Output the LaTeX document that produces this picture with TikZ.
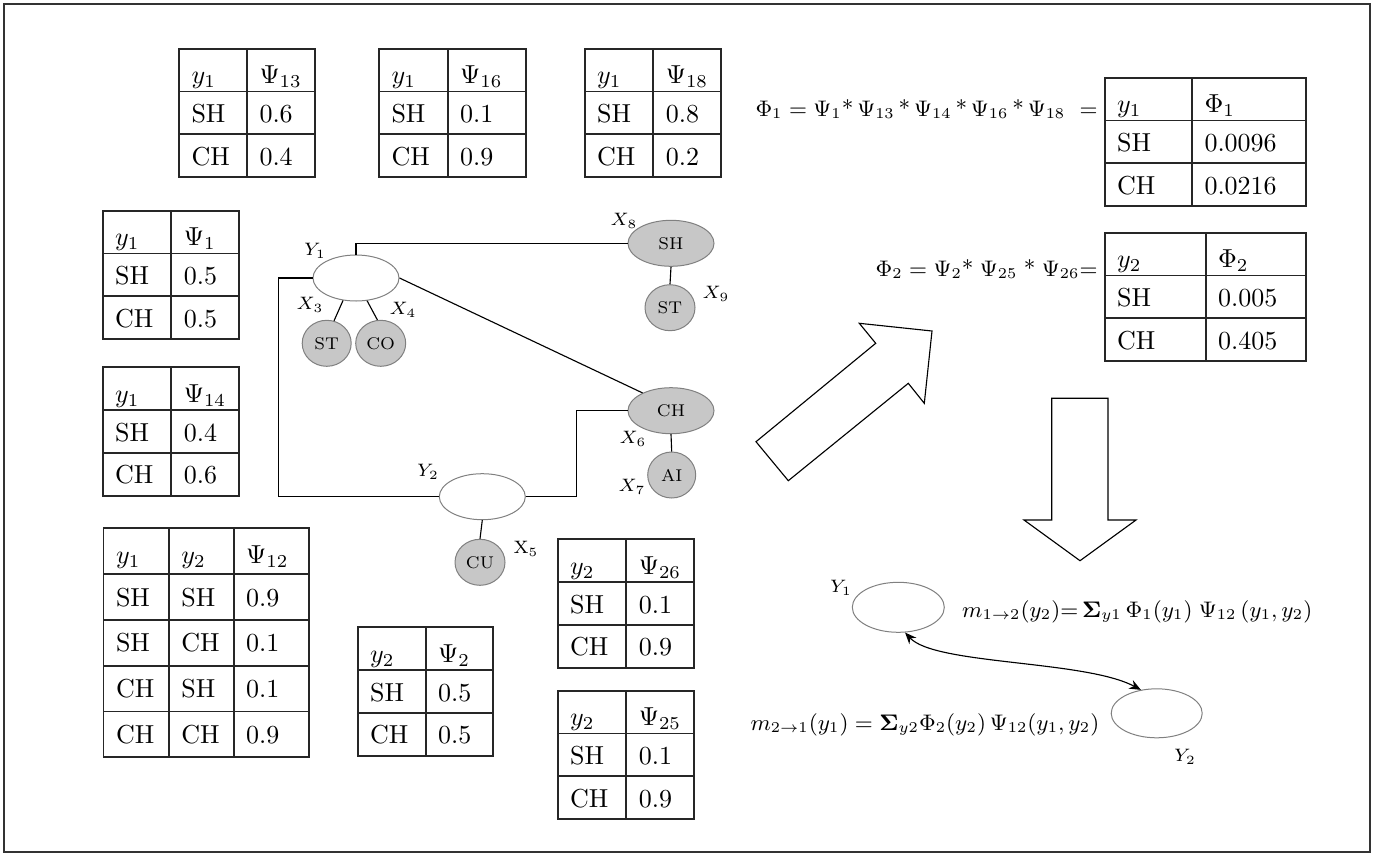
\documentclass[tikz,border=0pt]{standalone}
\usepackage{fix-cm}
\usepackage{tikz}
\usetikzlibrary{shapes.geometric}
\usetikzlibrary{arrows.meta}
\newcommand{\rowh}{42.8}
\newcommand{\pad}{12}
\newcommand{\pstar}{\mbox{*}}
\newcommand{\bigsig}{\mathbf{\Sigma}}
\tikzset{tabline/.style={line width=0.75pt, draw=black!85}}
\tikzset{cell/.style={anchor=base west, inner sep=0pt, font=\fontsize{10.4}{12}\selectfont}}
\tikzset{hidden/.style={ellipse, draw=black!50, line width=0.4pt, fill=white, minimum width=34.4pt, minimum height=18.4pt, inner sep=0pt}}
\tikzset{seen/.style={ellipse, draw=black!50, line width=0.4pt, fill=black!22, minimum height=18.4pt, inner sep=0pt, font=\fontsize{6.8}{8}\selectfont}}
\tikzset{varlabel/.style={inner sep=0pt, font=\fontsize{7.2}{8}\selectfont}}
\tikzset{link/.style={line width=0.45pt}}
\tikzset{bigarrow/.style={line width=0.45pt, line join=miter}}
\tikzset{formula/.style={inner sep=0pt, font=\fontsize{9}{11}\selectfont}}

% name, left, middle, right, top, two heads, value SH, value CH
\newcommand{\pottab}[9]{%
  \draw[tabline] (#2,#5) rectangle (#4,{#5+3*\rowh});
  \draw[tabline] (#3,#5) -- (#3,{#5+3*\rowh});
  \draw[tabline] (#2,{#5+\rowh}) -- (#4,{#5+\rowh});
  \draw[tabline] (#2,{#5+2*\rowh}) -- (#4,{#5+2*\rowh});
  \node[cell] (#1-a) at ({#2+\pad},{#5+35}) {$#6$};
  \node[cell] (#1-b) at ({#3+\pad},{#5+35}) {$#7$};
  \node[cell] (#1-c) at ({#2+\pad},{#5+\rowh+31}) {SH};
  \node[cell] (#1-d) at ({#3+\pad},{#5+\rowh+31}) {#8};
  \node[cell] (#1-e) at ({#2+\pad},{#5+2*\rowh+31}) {CH};
  \node[cell] (#1-f) at ({#3+\pad},{#5+2*\rowh+31}) {#9};
}

\begin{document}
\begin{tikzpicture}[x=0.4pt, y=-0.4pt, >={Stealth[length=4.6pt, width=3.8pt]}]
\useasboundingbox (0,0) rectangle (1373,854);
\draw[line width=0.75pt, black!80] (4,4) rectangle (1370,852);

\pottab{t13}{179}{247}{315}{48.7}{y_1}{\Psi_{13}}{0.6}{0.4}
\pottab{t16}{379}{447.7}{526}{48.7}{y_1}{\Psi_{16}}{0.1}{0.9}
\pottab{t18}{584.7}{653.3}{721}{48.7}{y_1}{\Psi_{18}}{0.8}{0.2}
\pottab{t1}{102.7}{171.3}{239.3}{210.7}{y_1}{\Psi_1}{0.5}{0.5}
\pottab{t14}{102.7}{171.3}{239.3}{367.3}{y_1}{\Psi_{14}}{0.4}{0.6}
\pottab{t2}{357.7}{425.7}{493.3}{627.3}{y_2}{\Psi_2}{0.5}{0.5}
\pottab{t26}{557.7}{626.3}{693.7}{539.3}{y_2}{\Psi_{26}}{0.1}{0.9}
\pottab{t25}{557.7}{626.3}{693.7}{690.7}{y_2}{\Psi_{25}}{0.1}{0.9}
\pottab{phi1}{1104.7}{1192}{1306}{77.7}{y_1}{\Phi_1}{0.0096}{0.0216}
\pottab{phi2}{1104.7}{1205.7}{1306}{232.7}{y_2}{\Phi_2}{0.005}{0.405}

\draw[tabline] (103.5,528.3) rectangle (309.3,757.3);
\foreach \x in {168.8,233.7} \draw[tabline] (\x,528.3) -- (\x,757.3);
\foreach \r in {1,...,4} \draw[tabline] (103.5,{528.3+45.8*\r}) -- (309.3,{528.3+45.8*\r});
\node[cell] (t12-a) at (115.5,563.3) {$y_1$};
\node[cell] (t12-b) at (180.8,563.3) {$y_2$};
\node[cell] (t12-c) at (245.7,563.3) {$\Psi_{12}$};
\foreach \a/\b/\v [count=\i] in {SH/SH/0.9, SH/CH/0.1, CH/SH/0.1, CH/CH/0.9} {
  \node[cell] (t12-\i a) at (115.5,{528.3+45.8*\i+32}) {\a};
  \node[cell] (t12-\i b) at (180.8,{528.3+45.8*\i+32}) {\b};
  \node[cell] (t12-\i c) at (245.7,{528.3+45.8*\i+32}) {\v};
}

\node[formula, anchor=base east] (f1) at (1098,116) {$\Phi_1 = \Psi_1\pstar\,\Psi_{13}\,\pstar\,\Psi_{14}\,\pstar\,\Psi_{16}\,\pstar\,\Psi_{18}\ =$};
\node[formula, anchor=base east] (f2) at (1098,276) {$\Phi_2 = \Psi_2\pstar\;\Psi_{25}\;\pstar\;\Psi_{26}{=}$};

\node[hidden] (y1) at (356,278) {};
\node[hidden] (y2) at (482.3,496.7) {};
\node[seen, minimum width=34.4pt] (x8) at (671,243.3) {SH};
\node[seen, minimum width=20pt] (x9) at (670,307.7) {ST};
\node[seen, minimum width=19.6pt] (x3) at (326.7,343.3) {ST};
\node[seen, minimum width=20pt] (x4) at (380.7,343.3) {CO};
\node[seen, minimum width=34.4pt] (x6) at (671,410.7) {CH};
\node[seen, minimum width=19.2pt] (x7) at (671.7,475) {AI};
\node[seen, minimum width=20pt] (x5) at (480,562.3) {CU};

\node[varlabel] (ly1) at (315,251) {$Y_1$};
\node[varlabel] (ly2) at (428,472) {$Y_2$};
\node[varlabel] (lx3) at (310,305) {$X_3$};
\node[varlabel] (lx4) at (403,310) {$X_4$};
\node[varlabel] (lx5) at (526,549) {$\mathrm{X}_5$};
\node[varlabel] (lx6) at (633,439) {$X_6$};
\node[varlabel] (lx7) at (632,487) {$X_7$};
\node[varlabel] (lx8) at (624,221) {$X_8$};
\node[varlabel] (lx9) at (716,294) {$X_9$};

\draw[link] (y1.north) |- (x8.west);
\draw[link] (x8.south) -- (x9.north);
\draw[link] (y1.-120) -- (x3.72);
\draw[link] (y1.-64) -- (x4.98);
\draw[link] (y1.east) -- (x6.148);
\draw[link] (y1.west) -- ++(-34,0) |- (y2.west);
\draw[link] (y2.east) -- ++(51,0) |- (x6.west);
\draw[link] (y2.south) -- (x5.north);
\draw[link] (x6.south) -- (x7.north);

\draw[bigarrow] (756,441.7) -- (788.3,480.7) -- (908.3,383.3) -- (924.3,403.3) -- (932,331) -- (859.3,323.3) -- (875.7,343.3) -- cycle;
\draw[bigarrow] (1051.7,398.3) -- (1108,398.3) -- (1108,520) -- (1136,520) -- (1080,560.7) -- (1024,520) -- (1051.7,520) -- cycle;

\node[hidden, minimum width=36.8pt, minimum height=20pt] (m1) at (898.3,607.3) {};
\node[hidden, minimum width=36.4pt, minimum height=19.6pt] (m2) at (1156.7,713.3) {};
\node[varlabel] (lm1) at (841,588) {$Y_1$};
\node[varlabel] (lm2) at (1185,757) {$Y_2$};
\draw[link, <->] (m1.-75) .. controls (935,665) and (1085,660) .. (m2.124);

\node[formula, anchor=base west] (msg12) at (961.7,617) {$m_{1\to 2}(y_2){=}\,\bigsig_{y1}\,\Phi_1(y_1)\;\Psi_{12}\,(y_1,y_2)$};
\node[formula, anchor=base west] (msg21) at (750,730) {$m_{2\to 1}(y_1) = \bigsig_{y2}\Phi_2(y_2)\,\Psi_{12}(y_1,y_2)$};
\end{tikzpicture}
\end{document}
